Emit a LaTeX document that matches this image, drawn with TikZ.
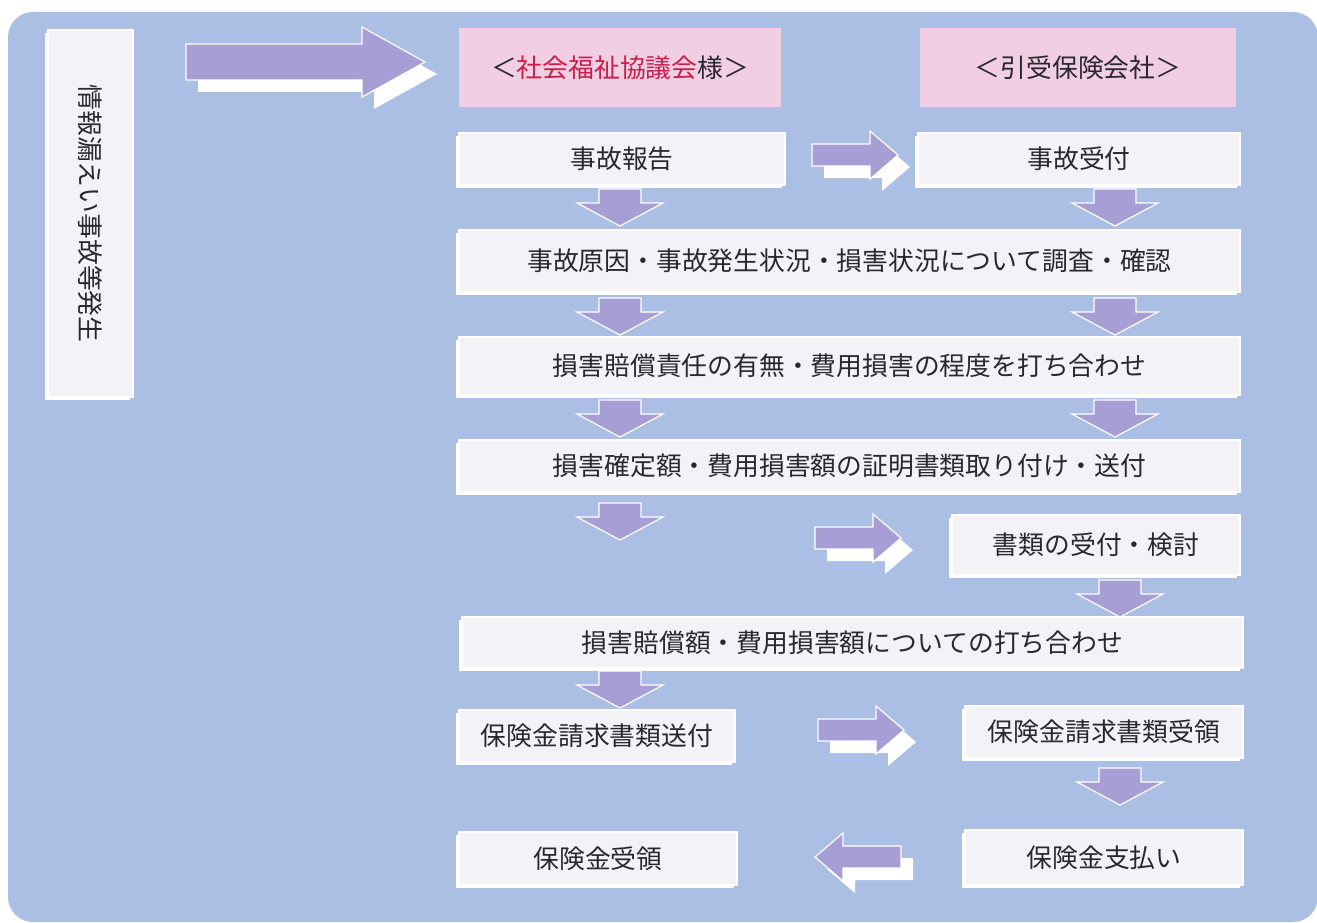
\documentclass[tikz,border=0pt]{standalone}
\usepackage{fontspec}
\setmainfont{Noto Sans CJK JP}
\usetikzlibrary{shadows}
\definecolor{bgblue}{RGB}{170,191,227}
\definecolor{lav}{RGB}{168,158,214}
\definecolor{pinkbox}{RGB}{242,206,228}
\definecolor{boxw}{RGB}{243,242,247}
\definecolor{redtxt}{RGB}{200,32,72}
\definecolor{txt}{RGB}{40,40,45}
\tikzset{
  stepbox/.style={fill=boxw, draw=white, line width=1.5pt,
    general shadow={fill=white, shadow xshift=-3pt, shadow yshift=-3pt}},
  headbox/.style={fill=pinkbox},
  arrbody/.style={fill=lav, draw=white, line width=1.2pt},
  rarr/.pic={
    \fill[white, shift={(12,12)}] (0,-11)--(58,-11)--(58,-24)--(86,0)--(58,24)--(58,11)--(0,11)--cycle;
    \path[arrbody] (0,-11)--(58,-11)--(58,-24)--(86,0)--(58,24)--(58,11)--(0,11)--cycle;
  },
  larr/.pic={
    \fill[white, shift={(12,12)}] (0,0)--(28,-24)--(28,-11)--(86,-11)--(86,11)--(28,11)--(28,24)--cycle;
    \path[arrbody] (0,0)--(28,-24)--(28,-11)--(86,-11)--(86,11)--(28,11)--(28,24)--cycle;
  },
  darr/.pic={
    \path[arrbody] (-21,0)--(21,0)--(21,14)--(43,14)--(0,37)--(-43,14)--(-21,14)--cycle;
  },
  bigarr/.pic={
    \fill[white, shift={(12,12)}] (0,-18)--(176,-18)--(176,-35)--(239,0)--(176,35)--(176,18)--(0,18)--cycle;
    \path[arrbody] (0,-18)--(176,-18)--(176,-35)--(239,0)--(176,35)--(176,18)--(0,18)--cycle;
  }
}
\begin{document}
\begin{tikzpicture}[x=1pt,y=-1pt,
  every node/.style={font=\fontsize{25.8}{29}\selectfont, text=txt, inner sep=0pt}]
\useasboundingbox (0,0) rectangle (1317,923);
\fill[white] (0,0) rectangle (1317,923);
\fill[bgblue, rounded corners=25pt] (8,12) rectangle (1318,922);

% left vertical box
\node[stepbox, rotate=-90, minimum width=367pt, minimum height=85pt] (occur) at (90.5,213.5) {情報漏えい事故等発生};
\pic (big) at (186,62) {bigarr};

% headers
\node[headbox, minimum width=322pt, minimum height=79pt] (hl) at (620,67.5) {＜\textcolor{redtxt}{社会福祉協議会}様＞};
\node[headbox, minimum width=316pt, minimum height=79pt] (hr) at (1078,67.5) {＜引受保険会社＞};

% rows
\node[stepbox, minimum width=326pt, minimum height=52pt] (r1l) at (622,159) {事故報告};
\node[stepbox, minimum width=322pt, minimum height=52pt] (r1r) at (1079,159) {事故受付};
\pic (a1) at (812,155) {rarr};
\pic (d1l) at (620,189) {darr};
\pic (d1r) at (1115,189) {darr};

\node[stepbox, minimum width=781pt, minimum height=62pt] (r2) at (849.5,261) {事故原因・事故発生状況・損害状況について調査・確認};
\pic (d2l) at (620,298) {darr};
\pic (d2r) at (1115,298) {darr};

\node[stepbox, minimum width=781pt, minimum height=58pt] (r3) at (849.5,366) {損害賠償責任の有無・費用損害の程度を打ち合わせ};
\pic (d3l) at (620,400) {darr};
\pic (d3r) at (1115,400) {darr};

\node[stepbox, minimum width=781pt, minimum height=52pt] (r4) at (849.5,466) {損害確定額・費用損害額の証明書類取り付け・送付};
\pic (d4l) at (620,503) {darr};

\pic (a5) at (815,538) {rarr};
\node[stepbox, minimum width=288pt, minimum height=60pt] (r5) at (1096,545) {書類の受付・検討};
\pic (d5r) at (1120,580) {darr};

\node[stepbox, minimum width=781pt, minimum height=51pt] (r6) at (852.5,642.5) {損害賠償額・費用損害額についての打ち合わせ};
\pic (d6l) at (620,671) {darr};

\node[stepbox, minimum width=276pt, minimum height=52pt] (r7l) at (597,736) {保険金請求書類送付};
\pic (a7) at (818,730) {rarr};
\node[stepbox, minimum width=278pt, minimum height=52pt] (r7r) at (1104,732) {保険金請求書類受領};
\pic (d7r) at (1120,768) {darr};

\node[stepbox, minimum width=278pt, minimum height=53pt] (r8l) at (598,858.5) {保険金受領};
\pic (a8) at (815,857) {larr};
\node[stepbox, minimum width=278pt, minimum height=55pt] (r8r) at (1104,857.5) {保険金支払い};
\end{tikzpicture}
\end{document}
